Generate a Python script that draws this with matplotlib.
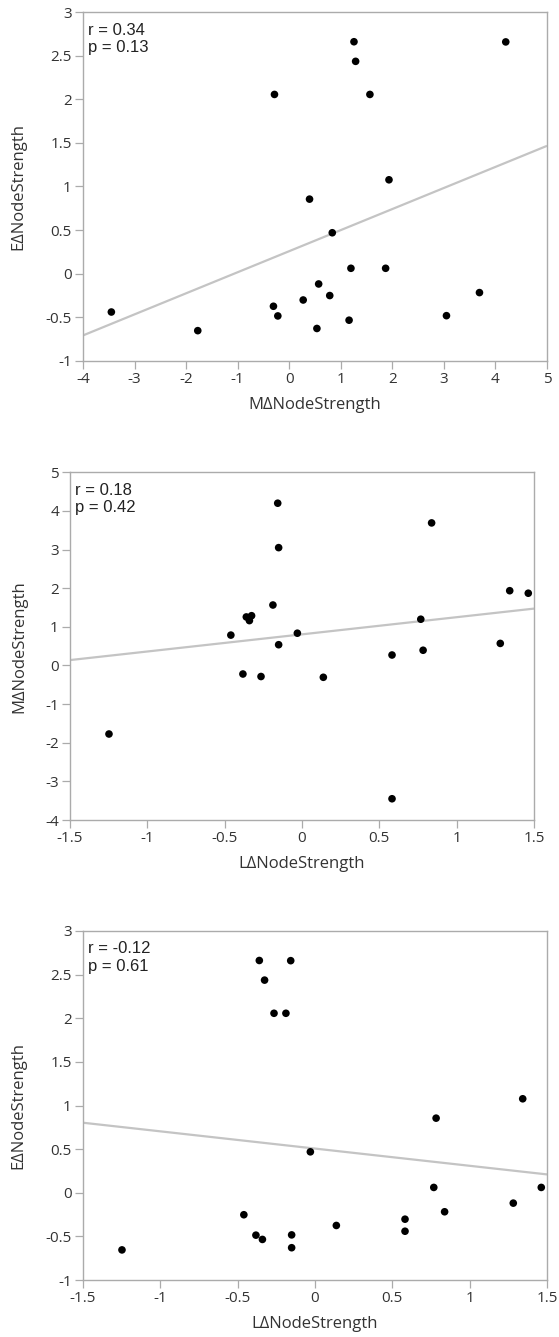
import numpy as np
import matplotlib
matplotlib.use("Agg")
import matplotlib.pyplot as plt

# Change in node strength per subject for the three conditions (L, M, E)
L_delta = [-0.157, 0.838, -0.151, 1.343, 1.463, -0.188, -0.360, -0.326, -0.340, 0.768,
           -0.030, -0.460, -0.151, 0.582, 0.783, 1.282, -0.382, -0.265, 0.138, -1.248, 0.582]
M_delta = [4.20, 3.69, 3.05, 1.935, 1.87, 1.565, 1.256, 1.288, 1.161, 1.197,
           0.835, 0.786, 0.537, 0.271, 0.394, 0.571, -0.221, -0.286, -0.306, -1.774, -3.45]
E_delta = [2.66, -0.218, -0.483, 1.077, 0.061, 2.057, 2.662, 2.437, -0.535, 0.061,
           0.469, -0.252, -0.630, -0.303, 0.855, -0.119, -0.486, 2.057, -0.375, -0.655, -0.441]

# Correlation statistics shown in each panel
stats_text = ["r = 0.34\np = 0.13", "r = 0.18\np = 0.42", "r = -0.12\np = 0.61"]

panels = [
    dict(x=M_delta, y=E_delta, xlabel="M\u0394NodeStrength", ylabel="E\u0394NodeStrength",
         xlim=(-4, 5), ylim=(-1, 3), xticks=[-4, -3, -2, -1, 0, 1, 2, 3, 4, 5],
         yticks=[-1, -0.5, 0, 0.5, 1, 1.5, 2, 2.5, 3], rect=(83, 12.3, 547, 360.7),
         ylab_x=26),
    dict(x=L_delta, y=M_delta, xlabel="L\u0394NodeStrength", ylabel="M\u0394NodeStrength",
         xlim=(-1.5, 1.5), ylim=(-4, 5), xticks=[-1.5, -1, -0.5, 0, 0.5, 1, 1.5],
         yticks=[-4, -3, -2, -1, 0, 1, 2, 3, 4, 5], rect=(70, 472.3, 534, 820),
         ylab_x=27),
    dict(x=L_delta, y=E_delta, xlabel="L\u0394NodeStrength", ylabel="E\u0394NodeStrength",
         xlim=(-1.5, 1.5), ylim=(-1, 3), xticks=[-1.5, -1, -0.5, 0, 0.5, 1, 1.5],
         yticks=[-1, -0.5, 0, 0.5, 1, 1.5, 2, 2.5, 3], rect=(83, 931, 547, 1280),
         ylab_x=26),
]

W, H = 559, 1337
fig = plt.figure(figsize=(W / 100, H / 100), dpi=100)
fig.patch.set_facecolor("white")

ui_font = "Open Sans"
frame_col = "#ababab"
text_col = "#333333"


def fmt(v):
    return f"{v:g}"


for p, txt in zip(panels, stats_text):
    x0, y0, x1, y1 = p["rect"]
    w_px, h_px = x1 - x0, y1 - y0
    ax = fig.add_axes([x0 / W, 1 - y1 / H, w_px / W, h_px / H])
    x = np.asarray(p["x"])
    y = np.asarray(p["y"])

    # least-squares fit line across the full x range
    slope, intercept = np.polyfit(x, y, 1)
    xs = np.array(p["xlim"])
    ax.plot(xs, slope * xs + intercept, color="#c4c4c4", lw=1.6, zorder=2,
            solid_capstyle="butt")

    ax.scatter(x, y, s=30, color="black", edgecolors="none", zorder=3)

    ax.set_xlim(*p["xlim"])
    ax.set_ylim(*p["ylim"])
    ax.set_xticks(p["xticks"])
    ax.set_yticks(p["yticks"])
    ax.set_xticklabels([fmt(v) for v in p["xticks"]], family=ui_font, fontsize=11)
    ax.set_yticklabels([fmt(v) for v in p["yticks"]], family=ui_font, fontsize=11)
    ax.tick_params(direction="out", length=5.5, width=0.9, color=frame_col,
                   labelcolor=text_col)
    ax.tick_params(axis="x", pad=2.5)
    ax.tick_params(axis="y", pad=2.5)
    for sp in ax.spines.values():
        sp.set_color(frame_col)
        sp.set_linewidth(1.0)

    ax.set_xlabel(p["xlabel"], family=ui_font, fontsize=12, color=text_col)
    ax.set_ylabel(p["ylabel"], family=ui_font, fontsize=12, color=text_col)
    ax.xaxis.set_label_coords(0.5, -36 / h_px)
    ax.yaxis.set_label_coords((p["ylab_x"] - x0) / w_px, 0.5)

    ax.annotate(txt, xy=(0, 1), xycoords="axes fraction", xytext=(3.8, -7.5),
                textcoords="offset points", ha="left", va="top",
                family="Liberation Sans", fontsize=12, color="#222222",
                linespacing=1.2)

fig.savefig("out.png", dpi=100, facecolor="white")
